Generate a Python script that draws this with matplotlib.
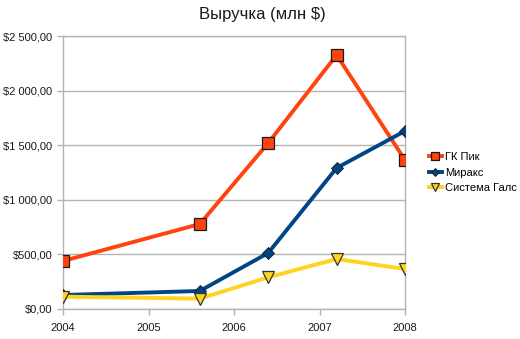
import matplotlib
matplotlib.use('Agg')
import matplotlib.pyplot as plt
from matplotlib.ticker import FuncFormatter

plt.rcParams['font.family'] = ['Liberation Sans', 'DejaVu Sans']

# Данные (млн $)
годы = [2004, 2005.6, 2006.4, 2007.2, 2008]
гк_пик = [440, 778, 1520, 2326, 1364]
миракс = [128, 165, 513, 1291, 1630]
система_галс = [113, 95, 290, 458, 366]
подписи = ['ГК Пик', 'Миракс', 'Система Галс']


def формат_денег(v, pos):
    s = f'{v:,.2f}'.replace(',', ' ').replace('.', ',')
    return '$' + s


fig = plt.figure(figsize=(5.2, 3.39), dpi=100)
ax = fig.add_axes([63 / 520, 30 / 339, 342 / 520, 273 / 339])

ax.plot(годы, гк_пик, color='#FF420E', lw=2.8, marker='s', ms=8,
        mfc='#FF420E', mec='#1a1a1a', mew=0.9, label=подписи[0], zorder=3)
ax.plot(годы, миракс, color='#004586', lw=2.8, marker='D', ms=6.5,
        mfc='#004586', mec='#1a1a1a', mew=0.6, label=подписи[1], zorder=3)
ax.plot(годы, система_галс, color='#FFD320', lw=2.8, marker='v', ms=8.5,
        mfc='#FFD320', mec='#333333', mew=0.9, label=подписи[2], zorder=3)

ax.set_xlim(2004, 2008)
ax.set_ylim(0, 2500)
ax.set_xticks([2004, 2005, 2006, 2007, 2008])
ax.set_yticks([0, 500, 1000, 1500, 2000, 2500])
ax.yaxis.set_major_formatter(FuncFormatter(формат_денег))
ax.xaxis.set_major_formatter(FuncFormatter(lambda v, p: f'{int(v)}'))
ax.tick_params(labelsize=8, length=4, width=1, color='#b3b3b3', labelcolor='#1a1a1a')
ax.tick_params(axis='x', pad=6)
ax.grid(axis='y', color='#b3b3b3', lw=1)
for s in ax.spines.values():
    s.set_color('#b3b3b3')
    s.set_linewidth(1)

fig.text(0.505, 1 - 15 / 339, 'Выручка (млн $)', fontsize=12, ha='center', va='center',
         color='#1a1a1a')

ax.legend(loc='center left', bbox_to_anchor=(1.04, 0.5), frameon=False,
          fontsize=8, handlelength=1.2, handletextpad=0.3, labelspacing=0.5,
          markerscale=0.7)

fig.savefig('out.png', dpi=100)
